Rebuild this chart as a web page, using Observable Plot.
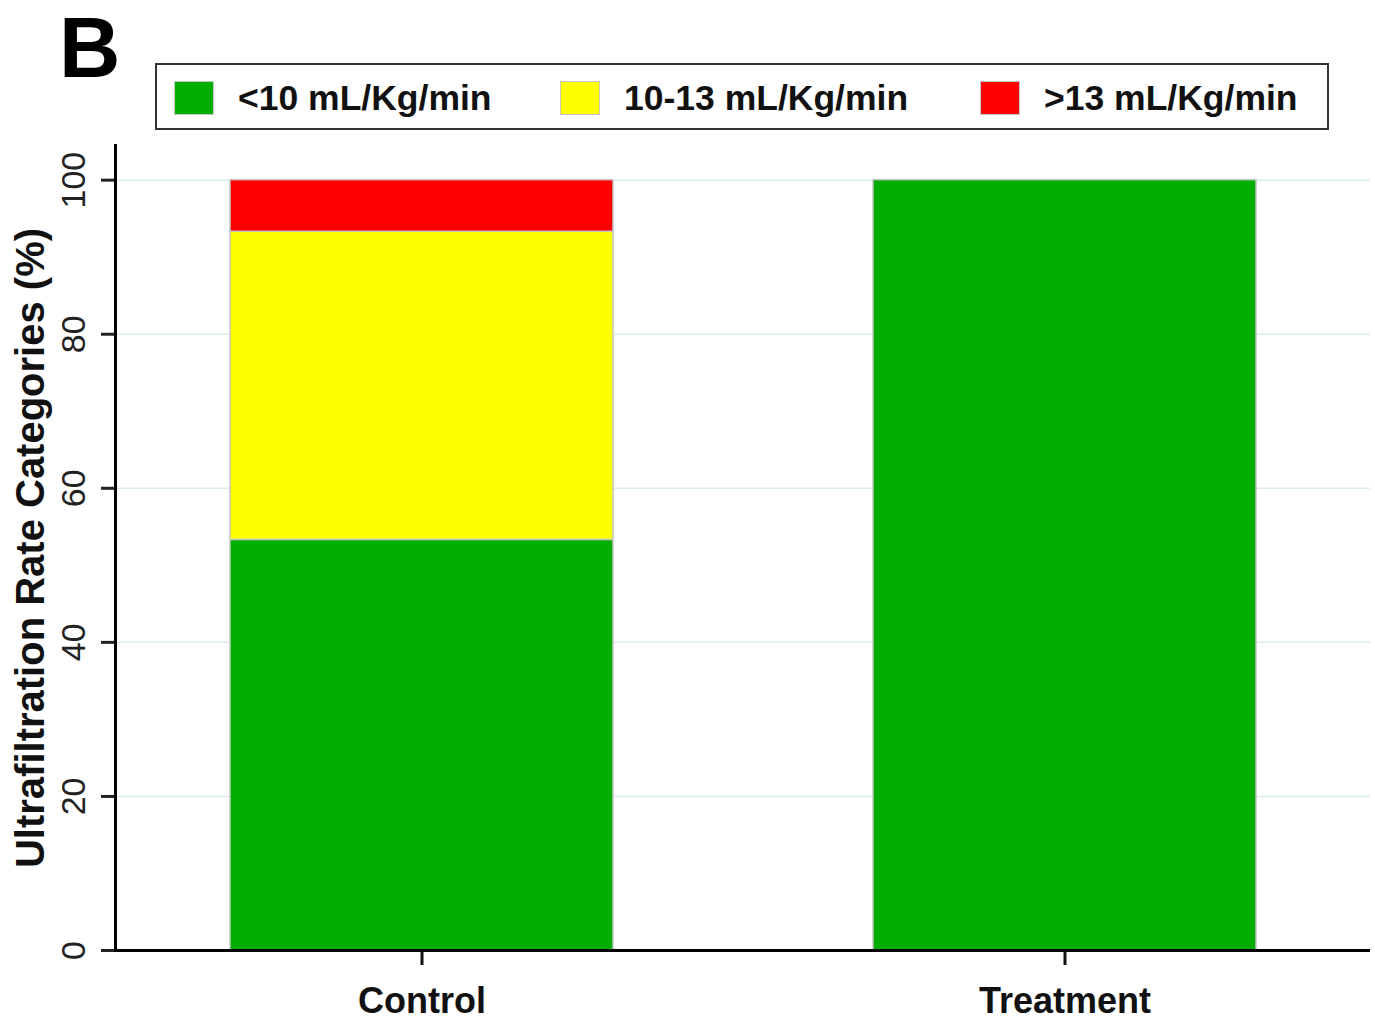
<!DOCTYPE html>
<html>
<head>
<meta charset="utf-8">
<script src="https://cdn.jsdelivr.net/npm/d3@7"></script>
<script src="https://cdn.jsdelivr.net/npm/@observablehq/plot@0.6"></script>
<style>
  html, body { margin: 0; padding: 0; background: white; }
  body { width: 1375px; height: 1020px; position: relative; overflow: hidden; font-family: "Liberation Sans", Arial, Helvetica, sans-serif; }
  #header { position: relative; width: 1375px; height: 140px; }
  #panel { position: absolute; left: 59px; top: 5px; font-size: 85px; line-height: 85px; font-weight: bold; color: #000; }
  #legend { position: absolute; left: 155px; top: 63px; width: 1174px; height: 67px; border: 2px solid #333; box-sizing: border-box; }
  .sw { position: absolute; width: 40px; height: 34px; box-sizing: border-box; border: 1px solid #c8c8c8; }
  .lt { position: absolute; font-size: 35.5px; line-height: 36px; font-weight: bold; color: #111; white-space: nowrap; }
  #chart svg { display: block; }
</style>
</head>
<body>
<div id="header"><div id="panel">B</div><div id="legend"></div></div>
<div id="chart"></div>
<script>
// ---- data ----
const panelLabel = "B";
const groups = ["Control", "Treatment"];
const categories = ["<10 mL/Kg/min", "10-13 mL/Kg/min", ">13 mL/Kg/min"];
const controlValues = [53.3, 40.0, 6.7];
const treatmentValues = [100, 0, 0];
const colors = ["#00AD00", "#FFFF00", "#FF0000"];
const yTicks = [0, 20, 40, 60, 80, 100];
const yLabel = "Ultrafiltration Rate Categories (%)";

// ---- table ----
const data = [];
[controlValues, treatmentValues].forEach((vals, gi) => {
  vals.forEach((v, ci) => {
    if (v > 0) data.push({group: groups[gi], category: categories[ci], value: v});
  });
});

// ---- legend (HTML) ----
document.getElementById("panel").textContent = panelLabel;
const legend = document.getElementById("legend");
const swX = [172, 558, 978];
const txX = [236, 622, 1042];
categories.forEach((c, i) => {
  const sw = document.createElement("div");
  sw.className = "sw";
  sw.style.left = (swX[i] - 155) + "px";
  sw.style.top = (79 - 63) + "px";
  sw.style.background = colors[i];
  legend.appendChild(sw);
  const t = document.createElement("div");
  t.className = "lt";
  t.style.left = (txX[i] - 155) + "px";
  t.style.top = (78 - 63) + "px";
  t.textContent = c;
  legend.appendChild(t);
});

// ---- chart ----
const chart = Plot.plot({
  width: 1375,
  height: 880,
  marginTop: 5,
  marginBottom: 70,
  marginLeft: 115,
  marginRight: 5,
  style: {fontFamily: "'Liberation Sans', Arial, Helvetica, sans-serif", background: "white", overflow: "visible"},
  x: {domain: groups, paddingInner: 0.405, paddingOuter: 0.177, label: null},
  y: {domain: [0, 104.5], label: null},
  color: {domain: categories, range: colors},
  marks: [
    Plot.gridY(yTicks, {stroke: "#dcebeb", strokeOpacity: 1, strokeWidth: 1.5}),
    Plot.barY(data, {x: "group", y: "value", fill: "category", stroke: "#c4c4c4", strokeWidth: 1.5}),
    Plot.axisY(yTicks, {tickRotate: -90, tickSize: 14, tickPadding: 17, fontSize: 34, strokeWidth: 3, color: "#222", label: null}),
    Plot.axisX({tickSize: 15, tickPadding: 22, fontSize: 36, fontWeight: "bold", strokeWidth: 3, color: "#111", label: null}),
    Plot.frame({anchor: "left", stroke: "black", strokeWidth: 3}),
    Plot.ruleY([0], {stroke: "black", strokeWidth: 3}),
    Plot.text([yLabel], {text: d => d, frameAnchor: "left", textAnchor: "middle", lineAnchor: "middle", rotate: -90, dx: -84, fontSize: 40, fontWeight: "bold", fill: "#111"})
  ]
});
document.getElementById("chart").appendChild(chart);
</script>
</body>
</html>
